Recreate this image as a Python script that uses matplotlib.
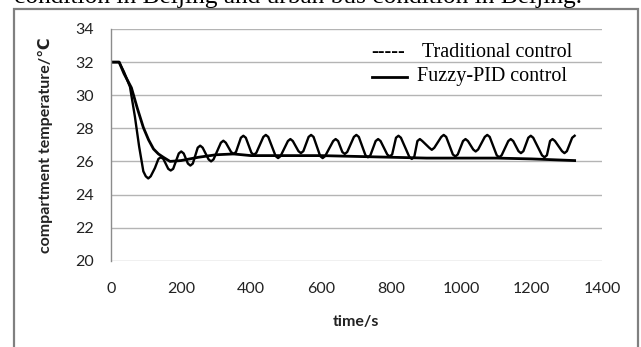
import matplotlib
matplotlib.use("Agg")
import matplotlib.pyplot as plt
from matplotlib.patches import Rectangle

# ---- data ----
trad_t = [0, 24, 38, 55, 69, 81, 93, 100, 107, 114, 126, 136, 143, 150, 164, 171, 178,
          194, 201, 208, 220, 227, 234, 248, 255, 262, 279, 286, 293, 314, 321, 328,
          343, 350, 357, 371, 378, 385, 401, 408, 415, 435, 442, 449, 470, 477, 484,
          505, 512, 519, 535, 542, 549, 564, 571, 578, 597, 604, 611, 634, 641, 648,
          660, 667, 674, 693, 700, 707, 726, 733, 740, 755, 762, 769, 788, 795, 802,
          813, 820, 827, 851, 858, 865, 874, 881, 888, 908, 915, 922, 942, 949, 956,
          975, 982, 989, 1004, 1011, 1018, 1033, 1040, 1047, 1066, 1073, 1080, 1100,
          1107, 1114, 1133, 1140, 1147, 1162, 1169, 1176, 1190, 1197, 1204, 1229,
          1236, 1243, 1252, 1259, 1266, 1286, 1293, 1300, 1315, 1322]
trad_temp = [32, 32, 31.4, 30.5, 28.7, 26.9, 25.4, 25.1, 24.97, 25.1, 25.6, 26.15,
             26.25, 26.15, 25.55, 25.45, 25.55, 26.48, 26.6, 26.48, 25.87, 25.75, 25.87,
             26.83, 26.95, 26.83, 26.12, 26.0, 26.12, 27.13, 27.25, 27.13, 26.57, 26.45,
             26.57, 27.43, 27.55, 27.43, 26.52, 26.4, 26.52, 27.48, 27.6, 27.48, 26.32,
             26.2, 26.32, 27.23, 27.35, 27.23, 26.62, 26.5, 26.62, 27.48, 27.6, 27.48,
             26.32, 26.2, 26.32, 27.23, 27.35, 27.23, 26.57, 26.45, 26.57, 27.48, 27.6,
             27.48, 26.37, 26.25, 26.37, 27.23, 27.35, 27.23, 26.42, 26.3, 26.42, 27.43,
             27.55, 27.43, 26.27, 26.15, 26.27, 27.23, 27.35, 27.23, 26.82, 26.7, 26.82,
             27.48, 27.6, 27.48, 26.42, 26.3, 26.42, 27.23, 27.35, 27.23, 26.72, 26.6,
             26.72, 27.48, 27.6, 27.48, 26.37, 26.25, 26.37, 27.23, 27.35, 27.23, 26.62,
             26.5, 26.62, 27.43, 27.55, 27.43, 26.37, 26.25, 26.37, 27.23, 27.35, 27.23,
             26.62, 26.5, 26.62, 27.43, 27.55]

fuzzy_t = [0, 24, 38, 59, 76, 93, 108, 122, 136, 150, 169, 200, 250, 300, 350, 400,
           500, 600, 700, 800, 900, 1000, 1100, 1200, 1322]
fuzzy_temp = [32, 32, 31.3, 30.45, 29.2, 28.05, 27.3, 26.75, 26.45, 26.25, 26.0, 26.05,
              26.25, 26.4, 26.45, 26.35, 26.35, 26.35, 26.3, 26.25, 26.2, 26.2, 26.2,
              26.15, 26.05]

x_ticks = [0, 200, 400, 600, 800, 1000, 1200, 1400]
y_ticks = [20, 22, 24, 26, 28, 30, 32, 34]
legend_labels = ["Traditional control", "Fuzzy-PID control"]
caption = "condition in Beijing and urban bus condition in Beijing."
x_label = "time/s"
y_label = "compartment temperature/\u2103"

W, H = 641, 347
fig = plt.figure(figsize=(W / 100, H / 100), dpi=100)
fig.patch.set_facecolor("white")

# outer frame (extends past right/bottom edges)
fig.patches.append(Rectangle((14 / W, -0.2), (638 - 14) / W, 1.2 - 9.5 / H,
                             transform=fig.transFigure, fill=False,
                             edgecolor="#808080", linewidth=1.6))

# caption cut off at top, as in the reference
fig.text(14 / W, 1 - 3.5 / H, caption, family="Liberation Serif", fontsize=18.3,
         ha="left", va="baseline", color="black")

left, right = 110.7 / W, 602 / W
top, bottom = 1 - 29 / H, 1 - 260.7 / H
ax = fig.add_axes([left, bottom, right - left, top - bottom])

ax.plot(trad_t, trad_temp, color="black", lw=1.7, solid_joinstyle="round")
ax.plot(fuzzy_t, fuzzy_temp, color="black", lw=2.0, solid_joinstyle="round")

ax.set_xlim(0, 1400)
ax.set_ylim(20, 34)
ax.set_xticks(x_ticks)
ax.set_yticks(y_ticks)
ax.set_xticklabels([str(v) for v in x_ticks], family="Lato", fontsize=11.5, color="#222222")
ax.set_yticklabels([str(v) for v in y_ticks], family="Lato", fontsize=11.5, color="#222222")
ax.tick_params(axis="both", length=0)
ax.tick_params(axis="y", pad=12)
ax.tick_params(axis="x", pad=15)

ax.grid(axis="y", color="#b4b4b4", lw=1.0)
ax.set_axisbelow(True)
for s in ["top", "right", "bottom"]:
    ax.spines[s].set_visible(False)
ax.spines["left"].set_color("#8c8c8c")
ax.spines["left"].set_linewidth(1.0)

ax.set_xlabel(x_label, family="Lato", fontweight="bold", fontsize=11.5, color="#222222")
ax.xaxis.set_label_coords(0.5, (260.7 - 321.7) / 231.7)
ax.xaxis.label.set_va("center")
ax.set_ylabel(y_label, family=["Lato", "DejaVu Sans"], fontweight="bold", fontsize=11.5,
              color="#222222")
ax.yaxis.set_label_coords((45 - 110.7) / 491.3, 0.5)
ax.yaxis.label.set_va("center")

# legend drawn as in the reference (dashed sample text, solid sample line)
fig.text(371.7 / W, 1 - 52.5 / H, "-----", family="Liberation Serif", fontsize=14.5,
         ha="left", va="center")
fig.text(421.7 / W, 1 - 52.5 / H, legend_labels[0], family="Liberation Serif",
         fontsize=14.5, ha="left", va="center")
fig.add_artist(plt.Line2D([371.7 / W, 406.7 / W], [1 - 76.5 / H, 1 - 76.5 / H],
                          transform=fig.transFigure, color="black", lw=2.0))
fig.text(416.7 / W, 1 - 76.5 / H, legend_labels[1], family="Liberation Serif",
         fontsize=14.5, ha="left", va="center")

fig.savefig("out.png", dpi=100)
